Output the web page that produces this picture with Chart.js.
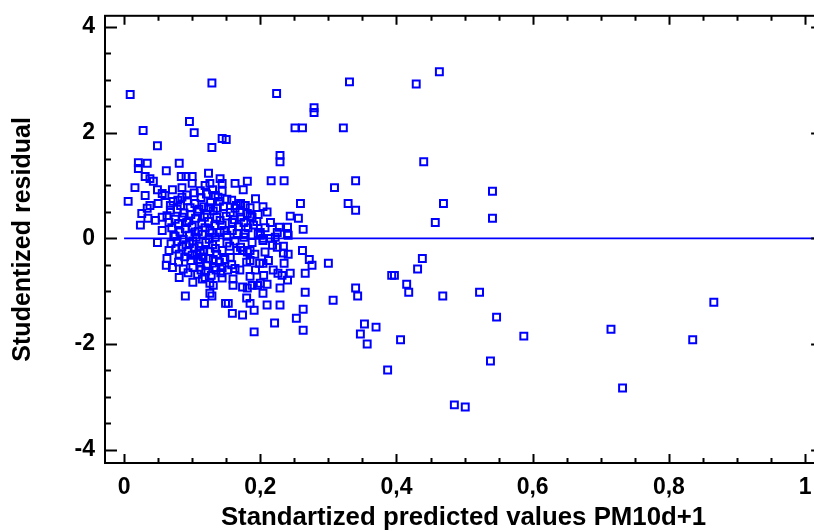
<!DOCTYPE html>
<html>
<head>
<meta charset="utf-8">
<script src="https://cdn.jsdelivr.net/npm/chart.js@4.4.1/dist/chart.umd.min.js"></script>
<style>
  html, body { margin: 0; padding: 0; background: #fff; overflow: hidden; }
  #wrap { width: 814px; height: 531px; overflow: hidden; }
  #residChart { display: block; margin-top: -8px; }
</style>
</head>
<body>
<div id="wrap"><canvas id="residChart" width="829" height="539"></canvas></div>
<script>
// predicted values (x) and studentized residuals (y)
const sparseX = [0.009, 0.129, 0.224, 0.331, 0.429, 0.463, 0.028, 0.096, 0.103, 0.144,
    0.150, 0.129, 0.049, 0.251, 0.262, 0.322, 0.279, 0.279, 0.229, 0.229,
    0.216, 0.235, 0.440, 0.340, 0.309, 0.329, 0.340, 0.469, 0.541, 0.541,
    0.457, 0.259, 0.244, 0.256, 0.263, 0.262, 0.272, 0.276, 0.300, 0.266,
    0.438, 0.431, 0.393, 0.397, 0.415, 0.418, 0.340, 0.343, 0.266, 0.307,
    0.468, 0.522, 0.263, 0.263, 0.547, 0.353, 0.370, 0.347, 0.357, 0.406,
    0.587, 0.538, 0.387, 0.485, 0.501, 0.866, 0.715, 0.835, 0.732];
const sparseY = [2.72, 2.94, 2.74, 2.96, 2.92, 3.15, 2.04, 2.21, 2.00, 1.89,
    1.87, 1.72, 1.75, 2.09, 2.09, 2.09, 2.47, 2.38, 1.57, 1.45,
    1.09, 1.09, 1.45, 1.09, 0.96, 0.66, 0.53, 0.66, 0.89, 0.38,
    0.30, 0.66, 0.42, 0.38, 0.17, -0.23, -0.40, -0.51, -0.47, -0.66,
    -0.38, -0.58, -0.70, -0.70, -0.87, -1.02, -0.94, -1.09, -1.02, -1.17,
    -1.09, -1.02, -1.34, -1.74, -1.49, -1.62, -1.68, -1.81, -2.00, -1.92,
    -1.85, -2.32, -2.49, -3.15, -3.19, -1.21, -1.72, -1.92, -2.83];

const clusterX = [0.021, 0.021, 0.034, 0.062, 0.081, 0.031, 0.038, 0.043, 0.016, 0.049,
    0.084, 0.091, 0.100, 0.100, 0.124, 0.119, 0.126, 0.006, 0.031, 0.056,
    0.060, 0.071, 0.085, 0.079, 0.026, 0.034, 0.038, 0.046, 0.024, 0.035,
    0.056, 0.063, 0.068, 0.050, 0.056, 0.049, 0.066, 0.063, 0.062, 0.071,
    0.075, 0.081, 0.101, 0.090, 0.118, 0.115, 0.126, 0.126, 0.129, 0.149,
    0.153, 0.159, 0.174, 0.191, 0.180, 0.185, 0.191, 0.210, 0.229, 0.221,
    0.253, 0.229, 0.181, 0.188, 0.196, 0.200, 0.204, 0.210, 0.119, 0.131,
    0.144, 0.160, 0.160, 0.174, 0.219, 0.226, 0.232, 0.240, 0.244, 0.235,
    0.241, 0.234, 0.207, 0.199, 0.204, 0.222, 0.240, 0.200, 0.204, 0.178,
    0.185, 0.185, 0.174, 0.156, 0.144, 0.163];
const clusterY = [1.43, 1.32, 1.42, 1.28, 1.42, 1.17, 1.13, 1.08, 0.96, 0.92,
    1.17, 1.17, 1.17, 1.04, 1.23, 1.00, 1.04, 0.70, 0.81, 0.85,
    0.81, 0.92, 0.96, 0.72, 0.47, 0.57, 0.62, 0.34, 0.25, 0.38,
    0.40, 0.43, 0.53, 0.66, 0.15, -0.08, -0.23, -0.38, -0.51, -0.55,
    0.04, -0.74, -0.83, -1.09, -1.23, -0.77, -0.85, -1.04, -1.09, -1.23,
    -1.23, -1.42, -1.45, -1.77, -1.13, -1.23, -1.36, -1.26, -1.26, -1.60,
    -1.51, -0.94, -0.94, -0.89, -0.89, -0.85, -1.04, -0.87, -0.74, -0.89,
    -0.75, -0.77, -0.89, -0.92, -0.60, -0.66, -0.70, -0.79, -0.66, -0.47,
    -0.30, -0.15, -0.26, -0.47, -0.47, 0.02, 0.09, 0.06, 0.00, 0.09,
    -0.23, -0.42, -0.23, -0.36, -0.55, -0.57];

const middleX = [0.193, 0.204, 0.185, 0.181, 0.181, 0.175, 0.163, 0.141, 0.144, 0.144,
    0.151, 0.134, 0.171, 0.178, 0.185, 0.163, 0.188, 0.197, 0.215, 0.225,
    0.234, 0.181, 0.171, 0.159, 0.156, 0.141, 0.144, 0.137, 0.134, 0.141,
    0.151, 0.159, 0.166, 0.171, 0.166, 0.151, 0.144, 0.134, 0.112, 0.100,
    0.124, 0.228, 0.240, 0.225, 0.241, 0.204, 0.218, 0.200];
const middleY = [0.75, 0.60, 0.42, 0.47, 1.08, 0.92, 1.04, 1.13, 1.04, 0.89,
    0.74, 0.81, 0.66, 0.62, 0.58, 0.57, 0.40, 0.09, 0.00, -0.17,
    -0.28, -0.26, 0.40, 0.30, 0.49, 0.34, 0.25, 0.57, 0.02, 0.11,
    0.06, 0.15, 0.09, -0.17, -0.23, -0.09, -0.23, -0.19, -0.23, -0.32,
    -0.38, 0.21, 0.21, 0.11, 0.06, -0.04, -0.13, 0.11];

const coreX = [0.072, 0.078, 0.083, 0.088, 0.093, 0.097, 0.104, 0.108, 0.113, 0.117,
    0.122, 0.127, 0.131, 0.136, 0.075, 0.080, 0.086, 0.090, 0.095, 0.100,
    0.105, 0.109, 0.114, 0.119, 0.124, 0.129, 0.133, 0.070, 0.073, 0.078,
    0.082, 0.087, 0.091, 0.096, 0.101, 0.106, 0.110, 0.115, 0.120, 0.125,
    0.130, 0.076, 0.081, 0.085, 0.089, 0.094, 0.098, 0.103, 0.107, 0.112,
    0.116, 0.121, 0.126, 0.131, 0.136, 0.140, 0.080, 0.087, 0.094, 0.101,
    0.108, 0.113, 0.120, 0.128, 0.135, 0.142, 0.148, 0.152, 0.155, 0.147,
    0.150, 0.146, 0.092, 0.103, 0.112, 0.121, 0.130, 0.138, 0.085, 0.068,
    0.066, 0.069, 0.118, 0.098, 0.110, 0.126, 0.092, 0.104, 0.117, 0.096,
    0.109, 0.133, 0.124, 0.140, 0.158, 0.165, 0.170, 0.162, 0.168, 0.176,
    0.182, 0.190, 0.195, 0.163, 0.176, 0.188, 0.192, 0.180, 0.170, 0.158,
    0.193, 0.205, 0.185, 0.212, 0.215, 0.210, 0.197, 0.207];
const coreY = [0.70, 0.55, 0.62, 0.48, 0.71, 0.58, 0.66, 0.50, 0.77, 0.60,
    0.45, 0.68, 0.52, 0.40, 0.36, 0.28, 0.40, 0.18, 0.33, 0.22,
    0.38, 0.13, 0.29, 0.20, 0.32, 0.10, 0.24, 0.20, 0.05, -0.06,
    0.12, -0.02, -0.12, 0.06, -0.05, 0.02, -0.15, 0.08, -0.08, -0.02,
    -0.12, -0.20, -0.30, -0.16, -0.35, -0.25, -0.42, -0.18, -0.30, -0.45,
    -0.35, -0.52, -0.25, -0.40, -0.30, -0.45, -0.45, -0.58, -0.65, -0.55,
    -0.68, -0.60, -0.62, -0.70, -0.60, -0.65, -0.40, -0.60, -0.15, 0.15,
    0.42, 0.60, 0.82, 0.86, 0.90, 0.84, 0.92, 0.78, 0.78, 0.62,
    0.30, -0.10, 0.40, 0.45, 0.55, 0.15, 0.30, 0.12, -0.25, -0.10,
    -0.40, -0.55, 0.58, 0.70, 0.72, 0.62, 0.50, 0.35, 0.22, 0.30,
    0.20, 0.25, 0.32, -0.05, 0.02, -0.08, -0.30, -0.45, -0.60, -0.50,
    -0.60, -0.70, -0.72, -0.42, 0.30, 0.50, 0.45, 0.20];

// zero reference line
const zeroLineX = [0, 1.03];
const zeroLineY = [0, 0];

// axes
const xTickValues = [0, 0.2, 0.4, 0.6, 0.8, 1];
const yTickValues = [-4, -2, 0, 2, 4];
const xMinorStep = 0.05;
const yMinorStep = 0.5;
const xRange = [-0.028, 1.025];
const yRange = [-4.25, 4.21];

function toPoints(xs, ys) {
    return xs.map((x, i) => ({ x: x, y: ys[i] }));
}

const residualPoints = [].concat(
    toPoints(sparseX, sparseY),
    toPoints(clusterX, clusterY),
    toPoints(middleX, middleY),
    toPoints(coreX, coreY)
);

const blue = '#0000ff';
const boldFont = "'Liberation Sans', Arial, sans-serif";

// box with inward tick marks, like the original plot
const framePlugin = {
    id: 'frame',
    afterDatasetsDraw(chart) {
        const { ctx, chartArea: a, scales } = chart;
        const xs = scales.x, ys = scales.y;
        const right = a.right + 1;
        ctx.save();
        ctx.strokeStyle = '#000';
        ctx.lineWidth = 2;
        ctx.strokeRect(a.left, a.top, right - a.left, a.bottom - a.top);

        ctx.beginPath();
        const nx = Math.round(1 / xMinorStep);
        for (let i = 0; i <= nx; i++) {
            const px = Math.round(xs.getPixelForValue(i * xMinorStep)) + 0.5;
            const len = i % 4 === 0 ? 9 : 5;
            ctx.moveTo(px, a.bottom); ctx.lineTo(px, a.bottom - len);
            ctx.moveTo(px, a.top); ctx.lineTo(px, a.top + len);
        }
        const ny = Math.round(4 / yMinorStep);
        for (let i = -ny; i <= ny; i++) {
            const py = Math.round(ys.getPixelForValue(i * yMinorStep)) + 0.5;
            const len = i % 4 === 0 ? 12 : 6;
            ctx.moveTo(a.left, py); ctx.lineTo(a.left + len, py);
            ctx.moveTo(right, py); ctx.lineTo(right - len, py);
        }
        ctx.stroke();
        ctx.restore();
    }
};

function commaLabel(v) {
    return String(Math.round(v * 10) / 10).replace('.', ',');
}

const ctx = document.getElementById('residChart').getContext('2d');
const residChart = new Chart(ctx, {
    type: 'scatter',
    data: {
        datasets: [
            {
                type: 'line',
                data: toPoints(zeroLineX, zeroLineY),
                borderColor: blue,
                borderWidth: 1.6,
                pointRadius: 0,
                fill: false
            },
            {
                data: residualPoints,
                pointStyle: 'rect',
                pointRadius: 4.9,
                borderWidth: 2,
                borderColor: blue,
                backgroundColor: 'rgba(0,0,0,0)'
            }
        ]
    },
    options: {
        responsive: false,
        animation: false,
        devicePixelRatio: 1,
        layout: { padding: { top: 6, right: 0, left: 0, bottom: 0 } },
        plugins: {
            legend: { display: false },
            tooltip: { enabled: false }
        },
        scales: {
            x: {
                type: 'linear',
                min: xRange[0],
                max: xRange[1],
                afterBuildTicks: (s) => { s.ticks = xTickValues.map(v => ({ value: v })); },
                afterFit: (s) => { s.height = 68; },
                grid: { display: false, drawTicks: false },
                border: { display: false },
                ticks: {
                    color: '#000',
                    padding: 11,
                    maxRotation: 0,
                    font: { family: boldFont, size: 23, weight: 'bold' },
                    callback: (v) => commaLabel(v)
                },
                title: {
                    display: true,
                    text: 'Standartized predicted values PM10d+1',
                    color: '#000',
                    padding: { top: 0, bottom: -2 },
                    font: { family: boldFont, size: 25.8, weight: 'bold' }
                }
            },
            y: {
                type: 'linear',
                min: yRange[0],
                max: yRange[1],
                afterBuildTicks: (s) => { s.ticks = yTickValues.map(v => ({ value: v })); },
                afterFit: (s) => { s.width = 105; },
                grid: { display: false, drawTicks: false },
                border: { display: false },
                ticks: {
                    color: '#000',
                    padding: 10,
                    font: { family: boldFont, size: 23, weight: 'bold' },
                    callback: (v) => String(v)
                },
                title: {
                    display: true,
                    text: 'Studentized residual',
                    color: '#000',
                    padding: { top: 8, bottom: 0 },
                    font: { family: boldFont, size: 25, weight: 'bold' }
                }
            }
        }
    },
    plugins: [framePlugin]
});
</script>
</body>
</html>
